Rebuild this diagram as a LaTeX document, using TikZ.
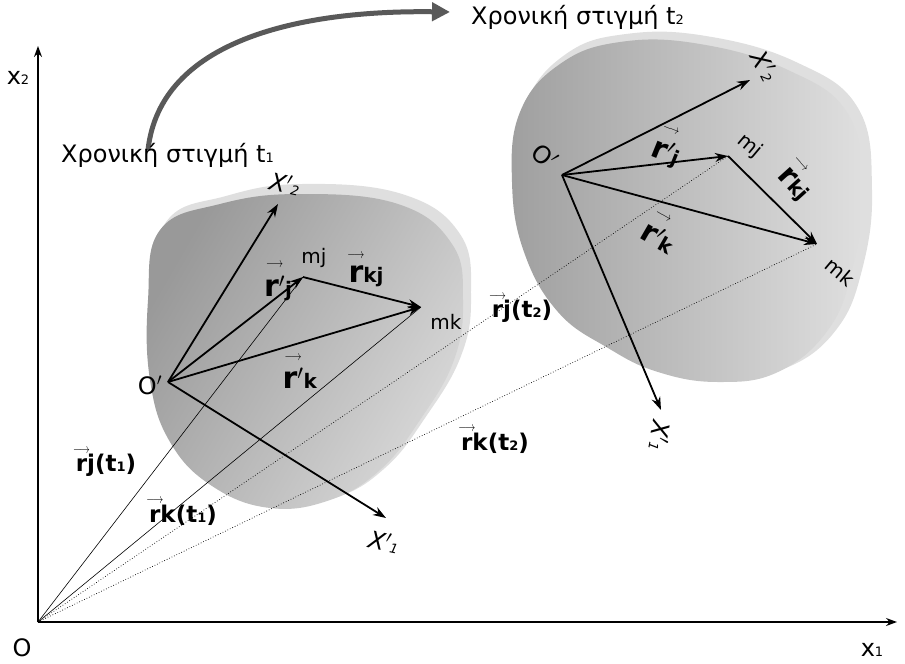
\documentclass[tikz,border=0pt]{standalone}
\usepackage{fontspec}
\setmainfont{DejaVu Sans}
\usetikzlibrary{arrows.meta}
\newcommand{\vecl}[2]{{\setbox0\hbox{\textbf{#1}}\rlap{\raisebox{1.4\ht0}{\makebox[\wd0]{\resizebox{17pt}{5pt}{$\longrightarrow$}}}}\box0}\textbf{#2}}
\newcommand{\sm}[1]{{\fontsize{13}{13}\selectfont #1}}
\begin{document}
\begin{tikzpicture}[x=1pt,y=-1pt,
  vec/.style={line width=1.8pt,-{Stealth[length=13pt,width=9pt]}},
  thin/.style={line width=0.6pt},
  dot/.style={line width=0.7pt,dotted},
  lab/.style={font=\fontsize{24}{24}\selectfont,inner sep=1pt},
  poslab/.style={font=\fontsize{23}{23}\selectfont,inner sep=1pt},
  big/.style={font=\fontsize{30}{30}\selectfont,inner sep=1pt},
  sml/.style={font=\fontsize{20}{20}\selectfont,inner sep=1pt},
  tlab/.style={font=\fontsize{24}{24}\selectfont,inner sep=1pt}]
\useasboundingbox (0,0) rectangle (905,664);
% axes
\coordinate (O) at (38,622);
\coordinate (X1) at (897,622);
\coordinate (X2) at (38,46);
\draw[line width=1.3pt,-{Stealth[length=11pt,width=8pt]}] (O) -- (X1);
\draw[line width=1.3pt,-{Stealth[length=11pt,width=8pt]}] (O) -- (X2);
\node[lab] (lO) at (22,648) {O};
\node[lab] (lx1) at (872,650) {x\sm{1}};
\node[lab] (lx2) at (18,78) {x\sm{2}};
% body 1
\fill[gray!25] plot[smooth cycle,tension=0.7] coordinates {(166,222)(226,196)(302,184)(402,194)(460,234)(471,296)(461,356)(425,418)(385,468)(335,498)(272,506)(212,484)(172,440)(152,380)(150,300)};
\shade[left color=gray!80,right color=gray!30,shading angle=60] plot[smooth cycle,tension=0.7] coordinates {(160,230)(220,204)(300,194)(398,204)(452,244)(463,300)(454,360)(420,420)(380,470)(330,500)(270,508)(212,486)(170,442)(150,380)(148,300)};
% body 2
\fill[gray!25] plot[smooth cycle,tension=0.7] coordinates {(525,105)(566,54)(626,34)(706,36)(796,62)(858,108)(872,190)(862,270)(836,330)(786,368)(722,378)(662,368)(612,345)(562,310)(527,250)(514,180)};
\shade[left color=gray!75,right color=gray!25] plot[smooth cycle,tension=0.7] coordinates {(520,112)(560,64)(620,42)(700,44)(788,70)(848,114)(862,192)(852,270)(828,330)(778,372)(718,382)(658,372)(608,348)(558,312)(524,252)(512,182)};
% body 1 vectors
\coordinate (Op1) at (168,382);
\coordinate (a2) at (278,204);
\coordinate (a1) at (386,518);
\coordinate (mj1) at (303,277);
\coordinate (mk1) at (421,307);
\draw[thin] (O) -- (mj1);
\draw[thin] (O) -- (mk1);
\draw[vec] (Op1) -- (a2);
\draw[vec] (Op1) -- (a1);
\draw[vec] (Op1) -- (mj1);
\draw[vec] (Op1) -- (mk1);
\draw[vec] (mj1) -- (mk1);
% body 2 vectors
\coordinate (Op2) at (562,175);
\coordinate (b2) at (750,80);
\coordinate (b1) at (661,410);
\coordinate (mj2) at (728,156);
\coordinate (mk2) at (817,244);
\draw[dot] (O) -- (mj2);
\draw[dot] (O) -- (mk2);
\draw[vec] (Op2) -- (b2);
\draw[vec] (Op2) -- (b1);
\draw[vec] (Op2) -- (mj2);
\draw[vec] (Op2) -- (mk2);
\draw[vec] (mj2) -- (mk2);
% labels body 1
\node[lab] (o1) at (150,385) {O$'$};
\node[lab,rotate=-12] (x21) at (285,184) {\textit{X}$'$\sm{\textit{2}}};
\node[lab,rotate=-12] (x11) at (384,542) {\textit{X}$'$\sm{\textit{1}}};
\node[sml] (mjl1) at (314,258) {mj};
\node[sml] (mkl1) at (446,322) {mk};
\node[big] (rj1) at (278,282) {\vecl{r$'$}{\fontsize{20}{20}\selectfont j}};
\node[big] (rkj1) at (366,270) {\vecl{r}{\fontsize{20}{20}\selectfont kj}};
\node[big] (rk1) at (300,372) {\vecl{r$'$}{\fontsize{20}{20}\selectfont k}};
% labels body 2
\node[lab,rotate=-40] (o2) at (545,156) {O$'$};
\node[lab,rotate=-62] (x22) at (765,66) {\textit{X}$'$\sm{\textit{2}}};
\node[lab,rotate=-100] (x12) at (660,436) {\textit{X}$'$\sm{\textit{1}}};
\node[sml,rotate=-40] (mjl2) at (750,146) {mj};
\node[sml,rotate=-40] (mkl2) at (840,272) {mk};
\node[big,rotate=-22] (rj2) at (668,147) {\vecl{r$'$}{\fontsize{20}{20}\selectfont j}};
\node[big,rotate=-48] (rkj2) at (797,181) {\vecl{r}{\fontsize{20}{20}\selectfont kj}};
\node[big,rotate=-30] (rk2) at (662,232) {\vecl{r$'$}{\fontsize{20}{20}\selectfont k}};
% position labels
\node[poslab] (rjt1) at (106,462) {\vecl{r}{j(t\sm{1})}};
\node[poslab] (rkt1) at (183,512) {\vecl{r}{k(t\sm{1})}};
\node[poslab] (rjt2) at (522,308) {\vecl{r}{j(t\sm{2})}};
\node[poslab] (rkt2) at (495,440) {\vecl{r}{k(t\sm{2})}};
% time arrow
\coordinate (c1) at (148,150);
\coordinate (c2) at (450,12);
\draw[line width=5pt,gray!70!black,-{Triangle[length=18pt,width=18pt]}] (c1) .. controls (160,40) and (300,10) .. (c2);
\node[tlab,anchor=west] (t1) at (60,155) {Χρονική στιγμή t\sm{1}};
\node[tlab,anchor=west] (t2) at (470,17) {Χρονική στιγμή t\sm{2}};
\end{tikzpicture}
\end{document}
